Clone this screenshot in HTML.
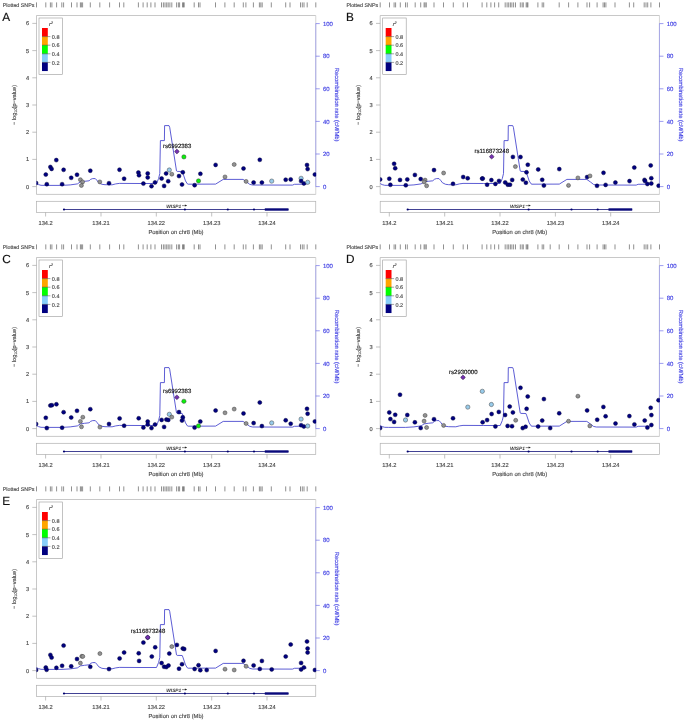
<!DOCTYPE html>
<html><head><meta charset="utf-8"><title>LocusZoom regional plots</title>
<style>html,body{margin:0;padding:0;background:#fff}svg{display:block;font-family:"Liberation Sans",sans-serif;text-rendering:geometricPrecision}text{stroke-width:0.15px}</style>
</head><body>
<svg width="685" height="721" viewBox="0 0 685 721">
<defs><clipPath id="cp"><rect x="36.5" y="15.5" width="279.65" height="178.9"/></clipPath></defs>
<rect width="685" height="721" fill="#fff"/>
<g transform="translate(0.00,0.00)">
<text x="2.7" y="7.0" font-size="5.35" fill="#4c4c4c" stroke="#4c4c4c">Plotted SNPs</text>
<path d="M36.5 2.4V7.4M315.8 2.4V7.4M45.8 2.4V7.4M50.4 2.4V7.4M51.9 2.4V7.4M56.6 2.4V7.4M61.8 2.4V7.4M63.6 2.4V7.4M71.5 2.4V7.4M77.0 2.4V7.4M80.4 2.4V7.4M81.4 2.4V7.4M82.6 2.4V7.4M90.3 2.4V7.4M99.8 2.4V7.4M109.6 2.4V7.4M119.5 2.4V7.4M123.8 2.4V7.4M138.4 2.4V7.4M143.1 2.4V7.4M147.2 2.4V7.4M150.9 2.4V7.4M155.0 2.4V7.4M161.5 2.4V7.4M163.4 2.4V7.4M165.0 2.4V7.4M166.7 2.4V7.4M168.2 2.4V7.4M169.9 2.4V7.4M171.8 2.4V7.4M176.6 2.4V7.4M178.4 2.4V7.4M179.6 2.4V7.4M182.5 2.4V7.4M183.5 2.4V7.4M184.2 2.4V7.4M194.2 2.4V7.4M198.5 2.4V7.4M200.0 2.4V7.4M215.5 2.4V7.4M224.9 2.4V7.4M234.2 2.4V7.4M243.3 2.4V7.4M245.9 2.4V7.4M253.4 2.4V7.4M259.4 2.4V7.4M260.8 2.4V7.4M262.2 2.4V7.4M271.3 2.4V7.4M285.7 2.4V7.4M290.0 2.4V7.4M300.5 2.4V7.4M302.3 2.4V7.4M304.0 2.4V7.4M307.2 2.4V7.4" stroke="#444" stroke-width="0.6" fill="none"/>
<text x="2.3" y="20.7" font-size="11.8" fill="#111" stroke="#111">A</text>
<path d="M36.5 194.4V15.5H315.75" stroke="#b0b0b0" stroke-width="0.7" fill="none"/>
<path d="M36.5 194.4H315.75" stroke="#b0b0b0" stroke-width="0.7" fill="none"/>
<path d="M315.75 15.5V194.4" stroke="#c4c4c4" stroke-width="0.7" fill="none"/>
<path d="M315.75 23.6V186.6" stroke="#9c9cea" stroke-width="0.8" fill="none"/>
<path d="M32.3 186.6H36.5" stroke="#999" stroke-width="0.6"/>
<text x="27.5" y="188.65" text-anchor="middle" font-size="5.7" fill="#4c4c4c" stroke="#4c4c4c">0</text>
<path d="M32.3 159.4H36.5" stroke="#999" stroke-width="0.6"/>
<text x="27.5" y="161.45" text-anchor="middle" font-size="5.7" fill="#4c4c4c" stroke="#4c4c4c">1</text>
<path d="M32.3 132.2H36.5" stroke="#999" stroke-width="0.6"/>
<text x="27.5" y="134.25" text-anchor="middle" font-size="5.7" fill="#4c4c4c" stroke="#4c4c4c">2</text>
<path d="M32.3 105.0H36.5" stroke="#999" stroke-width="0.6"/>
<text x="27.5" y="107.05" text-anchor="middle" font-size="5.7" fill="#4c4c4c" stroke="#4c4c4c">3</text>
<path d="M32.3 77.8H36.5" stroke="#999" stroke-width="0.6"/>
<text x="27.5" y="79.85" text-anchor="middle" font-size="5.7" fill="#4c4c4c" stroke="#4c4c4c">4</text>
<path d="M32.3 50.6H36.5" stroke="#999" stroke-width="0.6"/>
<text x="27.5" y="52.65" text-anchor="middle" font-size="5.7" fill="#4c4c4c" stroke="#4c4c4c">5</text>
<path d="M32.3 23.4H36.5" stroke="#999" stroke-width="0.6"/>
<text x="27.5" y="25.45" text-anchor="middle" font-size="5.7" fill="#4c4c4c" stroke="#4c4c4c">6</text>
<text transform="translate(16.0,105) rotate(-90)" text-anchor="middle" font-size="5.6" fill="#4c4c4c" stroke="#4c4c4c">− log<tspan font-size="3.8" dy="1.2">10</tspan><tspan dy="-1.2">(p−value)</tspan></text>
<path d="M315.75 186.6H319.75" stroke="#5a5ae6" stroke-width="0.6"/>
<text x="322.95" y="188.85" font-size="6.0" fill="#4444e4" stroke="#4444e4" stroke-width="0.08">0</text>
<path d="M315.75 154.0H319.75" stroke="#5a5ae6" stroke-width="0.6"/>
<text x="322.95" y="156.25" font-size="6.0" fill="#4444e4" stroke="#4444e4" stroke-width="0.08">20</text>
<path d="M315.75 121.4H319.75" stroke="#5a5ae6" stroke-width="0.6"/>
<text x="322.95" y="123.65" font-size="6.0" fill="#4444e4" stroke="#4444e4" stroke-width="0.08">40</text>
<path d="M315.75 88.8H319.75" stroke="#5a5ae6" stroke-width="0.6"/>
<text x="322.95" y="91.05" font-size="6.0" fill="#4444e4" stroke="#4444e4" stroke-width="0.08">60</text>
<path d="M315.75 56.2H319.75" stroke="#5a5ae6" stroke-width="0.6"/>
<text x="322.95" y="58.45" font-size="6.0" fill="#4444e4" stroke="#4444e4" stroke-width="0.08">80</text>
<path d="M315.75 23.6H319.75" stroke="#5a5ae6" stroke-width="0.6"/>
<text x="322.95" y="25.85" font-size="6.0" fill="#4444e4" stroke="#4444e4" stroke-width="0.08">100</text>
<text transform="translate(335.0,104.6) rotate(90)" text-anchor="middle" font-size="5.87" fill="#4444e4" stroke="#4444e4" stroke-width="0.08">Recombination rate (cM/Mb)</text>
<rect x="39" y="18" width="23.5" height="56.4" fill="#fff" stroke="#999" stroke-width="0.6"/>
<rect x="42" y="28.0" width="5.8" height="8.65" fill="#FF0000"/>
<rect x="42" y="36.6" width="5.8" height="8.65" fill="#FFA500"/>
<rect x="42" y="45.2" width="5.8" height="8.65" fill="#00FF00"/>
<rect x="42" y="53.8" width="5.8" height="8.65" fill="#87CEFA"/>
<rect x="42" y="62.4" width="5.8" height="8.65" fill="#000080"/>
<path d="M42 36.6H50.4" stroke="#333" stroke-width="0.45"/>
<text x="51.8" y="38.8" font-size="5.5" fill="#4c4c4c" stroke="#4c4c4c">0.8</text>
<path d="M42 45.2H50.4" stroke="#333" stroke-width="0.45"/>
<text x="51.8" y="47.4" font-size="5.5" fill="#4c4c4c" stroke="#4c4c4c">0.6</text>
<path d="M42 53.8H50.4" stroke="#333" stroke-width="0.45"/>
<text x="51.8" y="56.0" font-size="5.5" fill="#4c4c4c" stroke="#4c4c4c">0.4</text>
<path d="M42 62.4H50.4" stroke="#333" stroke-width="0.45"/>
<text x="51.8" y="64.6" font-size="5.5" fill="#4c4c4c" stroke="#4c4c4c">0.2</text>
<text x="49" y="25.6" font-size="5.6" font-style="italic" fill="#4c4c4c" stroke="#4c4c4c">r<tspan font-size="3.6" dy="-2">2</tspan></text>
<polyline points="36.5,183.6 38.5,184.6 41.0,185.3 45.0,185.4 62.0,185.4 70.2,184.9 77.4,183.9 78.9,182.9 80.4,181.9 84.5,181.3 89.1,180.8 90.7,179.3 92.7,178.6 95.3,178.6 96.8,180.2 98.8,182.8 101.9,184.3 105.0,184.7 112.1,184.8 115.7,183.9 119.3,183.4 140.0,183.5 156.5,183.5 158.6,178.5 159.8,173.5 160.4,140.6 164.4,140.6 164.6,125.6 169.0,125.6 169.7,127.3 176.5,170.9 177.2,171.4 182.2,171.5 182.9,173.2 185.5,180.9 187.3,183.8 188.2,184.2 215.6,184.1 223.2,179.4 243.1,179.4 246.9,182.1 249.8,184.4 252.6,185.0 292.5,185.1 294.4,184.3 303.9,184.2 306.5,184.2" fill="none" stroke="#4040cc" stroke-width="0.85" stroke-linejoin="miter"/>
<g clip-path="url(#cp)">
<circle cx="36.1" cy="183.1" r="2.0" fill="#000080" stroke="#0a0a3a" stroke-width="0.45"/>
<circle cx="45.8" cy="174.6" r="2.0" fill="#000080" stroke="#0a0a3a" stroke-width="0.45"/>
<circle cx="46.8" cy="184.2" r="2.0" fill="#000080" stroke="#0a0a3a" stroke-width="0.45"/>
<circle cx="50.4" cy="167.0" r="2.0" fill="#000080" stroke="#0a0a3a" stroke-width="0.45"/>
<circle cx="51.6" cy="168.9" r="2.0" fill="#000080" stroke="#0a0a3a" stroke-width="0.45"/>
<circle cx="56.3" cy="160.1" r="2.0" fill="#000080" stroke="#0a0a3a" stroke-width="0.45"/>
<circle cx="63.6" cy="169.8" r="2.0" fill="#000080" stroke="#0a0a3a" stroke-width="0.45"/>
<circle cx="62.1" cy="184.2" r="2.0" fill="#000080" stroke="#0a0a3a" stroke-width="0.45"/>
<circle cx="71.2" cy="177.8" r="2.0" fill="#000080" stroke="#0a0a3a" stroke-width="0.45"/>
<circle cx="77.0" cy="174.7" r="2.0" fill="#000080" stroke="#0a0a3a" stroke-width="0.45"/>
<circle cx="80.4" cy="179.7" r="2.0" fill="#929292" stroke="#333" stroke-width="0.45"/>
<circle cx="82.6" cy="181.9" r="2.0" fill="#929292" stroke="#333" stroke-width="0.45"/>
<circle cx="81.4" cy="185.5" r="2.0" fill="#929292" stroke="#333" stroke-width="0.45"/>
<circle cx="90.3" cy="170.7" r="2.0" fill="#000080" stroke="#0a0a3a" stroke-width="0.45"/>
<circle cx="99.8" cy="181.9" r="2.0" fill="#929292" stroke="#333" stroke-width="0.45"/>
<circle cx="109.0" cy="183.2" r="2.0" fill="#000080" stroke="#0a0a3a" stroke-width="0.45"/>
<circle cx="119.5" cy="169.7" r="2.0" fill="#000080" stroke="#0a0a3a" stroke-width="0.45"/>
<circle cx="124.1" cy="178.7" r="2.0" fill="#000080" stroke="#0a0a3a" stroke-width="0.45"/>
<circle cx="138.4" cy="172.5" r="2.0" fill="#000080" stroke="#0a0a3a" stroke-width="0.45"/>
<circle cx="139.0" cy="175.3" r="2.0" fill="#000080" stroke="#0a0a3a" stroke-width="0.45"/>
<circle cx="143.4" cy="183.6" r="2.0" fill="#000080" stroke="#0a0a3a" stroke-width="0.45"/>
<circle cx="147.7" cy="173.4" r="2.0" fill="#000080" stroke="#0a0a3a" stroke-width="0.45"/>
<circle cx="147.7" cy="177.4" r="2.0" fill="#000080" stroke="#0a0a3a" stroke-width="0.45"/>
<circle cx="151.5" cy="186.2" r="2.0" fill="#000080" stroke="#0a0a3a" stroke-width="0.45"/>
<circle cx="155.0" cy="182.4" r="2.0" fill="#000080" stroke="#0a0a3a" stroke-width="0.45"/>
<circle cx="161.6" cy="178.5" r="2.0" fill="#000080" stroke="#0a0a3a" stroke-width="0.45"/>
<circle cx="164.1" cy="185.9" r="2.0" fill="#000080" stroke="#0a0a3a" stroke-width="0.45"/>
<circle cx="166.1" cy="173.5" r="2.0" fill="#000080" stroke="#0a0a3a" stroke-width="0.45"/>
<circle cx="168.2" cy="181.2" r="2.0" fill="#000080" stroke="#0a0a3a" stroke-width="0.45"/>
<circle cx="169.3" cy="170.0" r="2.15" fill="#98cbea" stroke="#333" stroke-width="0.45"/>
<circle cx="171.8" cy="174.2" r="2.0" fill="#929292" stroke="#333" stroke-width="0.45"/>
<circle cx="179.0" cy="176.1" r="2.0" fill="#000080" stroke="#0a0a3a" stroke-width="0.45"/>
<circle cx="182.8" cy="172.3" r="2.0" fill="#000080" stroke="#0a0a3a" stroke-width="0.45"/>
<circle cx="182.0" cy="184.5" r="2.0" fill="#000080" stroke="#0a0a3a" stroke-width="0.45"/>
<circle cx="183.9" cy="156.9" r="2.15" fill="#0cf00c" stroke="#333" stroke-width="0.45"/>
<circle cx="194.6" cy="185.2" r="2.0" fill="#000080" stroke="#0a0a3a" stroke-width="0.45"/>
<circle cx="198.5" cy="180.9" r="2.15" fill="#0cf00c" stroke="#333" stroke-width="0.45"/>
<circle cx="200.4" cy="173.8" r="2.0" fill="#000080" stroke="#0a0a3a" stroke-width="0.45"/>
<circle cx="215.6" cy="164.9" r="2.0" fill="#000080" stroke="#0a0a3a" stroke-width="0.45"/>
<circle cx="234.2" cy="164.5" r="2.0" fill="#929292" stroke="#333" stroke-width="0.45"/>
<circle cx="225.0" cy="176.9" r="2.0" fill="#929292" stroke="#333" stroke-width="0.45"/>
<circle cx="243.5" cy="168.5" r="2.0" fill="#000080" stroke="#0a0a3a" stroke-width="0.45"/>
<circle cx="246.1" cy="181.4" r="2.0" fill="#929292" stroke="#333" stroke-width="0.45"/>
<circle cx="253.6" cy="182.5" r="2.0" fill="#000080" stroke="#0a0a3a" stroke-width="0.45"/>
<circle cx="259.8" cy="159.8" r="2.0" fill="#000080" stroke="#0a0a3a" stroke-width="0.45"/>
<circle cx="261.9" cy="182.6" r="2.0" fill="#000080" stroke="#0a0a3a" stroke-width="0.45"/>
<circle cx="271.7" cy="181.1" r="2.15" fill="#98cbea" stroke="#333" stroke-width="0.45"/>
<circle cx="285.7" cy="179.7" r="2.0" fill="#000080" stroke="#0a0a3a" stroke-width="0.45"/>
<circle cx="290.7" cy="179.4" r="2.0" fill="#000080" stroke="#0a0a3a" stroke-width="0.45"/>
<circle cx="301.1" cy="178.3" r="2.15" fill="#98cbea" stroke="#333" stroke-width="0.45"/>
<circle cx="301.1" cy="181.1" r="2.0" fill="#000080" stroke="#0a0a3a" stroke-width="0.45"/>
<circle cx="303.9" cy="183.5" r="2.0" fill="#000080" stroke="#0a0a3a" stroke-width="0.45"/>
<circle cx="307.7" cy="182.3" r="2.15" fill="#98cbea" stroke="#333" stroke-width="0.45"/>
<circle cx="307.0" cy="165.0" r="2.0" fill="#000080" stroke="#0a0a3a" stroke-width="0.45"/>
<circle cx="307.6" cy="169.1" r="2.0" fill="#000080" stroke="#0a0a3a" stroke-width="0.45"/>
<circle cx="314.9" cy="174.5" r="2.0" fill="#000080" stroke="#0a0a3a" stroke-width="0.45"/>
</g>
<rect x="-1.75" y="-1.75" width="3.5" height="3.5" rx="0.8" transform="translate(176.9,151.5) rotate(45)" fill="#7632b0" stroke="#2a1840" stroke-width="0.5"/>
<text x="177.1" y="147.5" text-anchor="middle" font-size="6.0" fill="#111" stroke="#111">rs6992383</text>
<rect x="36.5" y="201.3" width="279.25" height="11.199999999999989" fill="none" stroke="#b0b0b0" stroke-width="0.7"/>
<path d="M64 209.5H288.5" stroke="#2c2c88" stroke-width="0.9"/>
<circle cx="64" cy="209.5" r="1.1" fill="#00006e"/>
<circle cx="184.9" cy="209.5" r="1.1" fill="#00006e"/>
<circle cx="227.8" cy="209.5" r="1.1" fill="#00006e"/>
<circle cx="254" cy="209.5" r="1.1" fill="#00006e"/>
<rect x="264.8" y="208.3" width="23.7" height="2.4" fill="#08087a"/>
<text x="166.3" y="207.8" font-size="4.8" font-style="italic" font-weight="bold" fill="#333333" stroke="#333333" stroke-opacity="0">WISP1</text>
<path d="M182 205.6H186.4" stroke="#222" stroke-width="0.5" fill="none"/><path d="M184.9 204.6L187.1 205.6L184.9 206.6Z" fill="#222"/>
<path d="M45.6 212.5V216.5" stroke="#999" stroke-width="0.6"/>
<text x="45.6" y="225.4" text-anchor="middle" font-size="5.7" fill="#4c4c4c" stroke="#4c4c4c">134.2</text>
<path d="M101.0 212.5V216.5" stroke="#999" stroke-width="0.6"/>
<text x="101.0" y="225.4" text-anchor="middle" font-size="5.7" fill="#4c4c4c" stroke="#4c4c4c">134.21</text>
<path d="M156.3 212.5V216.5" stroke="#999" stroke-width="0.6"/>
<text x="156.3" y="225.4" text-anchor="middle" font-size="5.7" fill="#4c4c4c" stroke="#4c4c4c">134.22</text>
<path d="M211.7 212.5V216.5" stroke="#999" stroke-width="0.6"/>
<text x="211.7" y="225.4" text-anchor="middle" font-size="5.7" fill="#4c4c4c" stroke="#4c4c4c">134.23</text>
<path d="M267.0 212.5V216.5" stroke="#999" stroke-width="0.6"/>
<text x="267.0" y="225.4" text-anchor="middle" font-size="5.7" fill="#4c4c4c" stroke="#4c4c4c">134.24</text>
<text x="176" y="233.7" text-anchor="middle" font-size="5.8" fill="#4c4c4c" stroke="#4c4c4c">Position on chr8 (Mb)</text>
</g>
<g transform="translate(343.70,0.00)">
<text x="2.7" y="7.0" font-size="5.35" fill="#4c4c4c" stroke="#4c4c4c">Plotted SNPs</text>
<path d="M36.5 2.4V7.4M315.8 2.4V7.4M45.8 2.4V7.4M50.4 2.4V7.4M51.9 2.4V7.4M56.6 2.4V7.4M61.8 2.4V7.4M63.6 2.4V7.4M71.5 2.4V7.4M77.0 2.4V7.4M80.4 2.4V7.4M81.4 2.4V7.4M82.6 2.4V7.4M90.3 2.4V7.4M99.8 2.4V7.4M109.6 2.4V7.4M119.5 2.4V7.4M123.8 2.4V7.4M138.4 2.4V7.4M143.1 2.4V7.4M147.2 2.4V7.4M150.9 2.4V7.4M155.0 2.4V7.4M161.5 2.4V7.4M163.4 2.4V7.4M165.0 2.4V7.4M166.7 2.4V7.4M168.2 2.4V7.4M169.9 2.4V7.4M171.8 2.4V7.4M176.6 2.4V7.4M178.4 2.4V7.4M179.6 2.4V7.4M182.5 2.4V7.4M183.5 2.4V7.4M184.2 2.4V7.4M194.2 2.4V7.4M198.5 2.4V7.4M200.0 2.4V7.4M215.5 2.4V7.4M224.9 2.4V7.4M234.2 2.4V7.4M243.3 2.4V7.4M245.9 2.4V7.4M253.4 2.4V7.4M259.4 2.4V7.4M260.8 2.4V7.4M262.2 2.4V7.4M271.3 2.4V7.4M285.7 2.4V7.4M290.0 2.4V7.4M300.5 2.4V7.4M302.3 2.4V7.4M304.0 2.4V7.4M307.2 2.4V7.4" stroke="#444" stroke-width="0.6" fill="none"/>
<text x="2.3" y="20.7" font-size="11.8" fill="#111" stroke="#111">B</text>
<path d="M36.5 194.4V15.5H315.75" stroke="#b0b0b0" stroke-width="0.7" fill="none"/>
<path d="M36.5 194.4H315.75" stroke="#b0b0b0" stroke-width="0.7" fill="none"/>
<path d="M315.75 15.5V194.4" stroke="#c4c4c4" stroke-width="0.7" fill="none"/>
<path d="M315.75 23.6V186.6" stroke="#9c9cea" stroke-width="0.8" fill="none"/>
<path d="M32.3 186.6H36.5" stroke="#999" stroke-width="0.6"/>
<text x="27.5" y="188.65" text-anchor="middle" font-size="5.7" fill="#4c4c4c" stroke="#4c4c4c">0</text>
<path d="M32.3 159.4H36.5" stroke="#999" stroke-width="0.6"/>
<text x="27.5" y="161.45" text-anchor="middle" font-size="5.7" fill="#4c4c4c" stroke="#4c4c4c">1</text>
<path d="M32.3 132.2H36.5" stroke="#999" stroke-width="0.6"/>
<text x="27.5" y="134.25" text-anchor="middle" font-size="5.7" fill="#4c4c4c" stroke="#4c4c4c">2</text>
<path d="M32.3 105.0H36.5" stroke="#999" stroke-width="0.6"/>
<text x="27.5" y="107.05" text-anchor="middle" font-size="5.7" fill="#4c4c4c" stroke="#4c4c4c">3</text>
<path d="M32.3 77.8H36.5" stroke="#999" stroke-width="0.6"/>
<text x="27.5" y="79.85" text-anchor="middle" font-size="5.7" fill="#4c4c4c" stroke="#4c4c4c">4</text>
<path d="M32.3 50.6H36.5" stroke="#999" stroke-width="0.6"/>
<text x="27.5" y="52.65" text-anchor="middle" font-size="5.7" fill="#4c4c4c" stroke="#4c4c4c">5</text>
<path d="M32.3 23.4H36.5" stroke="#999" stroke-width="0.6"/>
<text x="27.5" y="25.45" text-anchor="middle" font-size="5.7" fill="#4c4c4c" stroke="#4c4c4c">6</text>
<text transform="translate(16.0,105) rotate(-90)" text-anchor="middle" font-size="5.6" fill="#4c4c4c" stroke="#4c4c4c">− log<tspan font-size="3.8" dy="1.2">10</tspan><tspan dy="-1.2">(p−value)</tspan></text>
<path d="M315.75 186.6H319.75" stroke="#5a5ae6" stroke-width="0.6"/>
<text x="322.95" y="188.85" font-size="6.0" fill="#4444e4" stroke="#4444e4" stroke-width="0.08">0</text>
<path d="M315.75 154.0H319.75" stroke="#5a5ae6" stroke-width="0.6"/>
<text x="322.95" y="156.25" font-size="6.0" fill="#4444e4" stroke="#4444e4" stroke-width="0.08">20</text>
<path d="M315.75 121.4H319.75" stroke="#5a5ae6" stroke-width="0.6"/>
<text x="322.95" y="123.65" font-size="6.0" fill="#4444e4" stroke="#4444e4" stroke-width="0.08">40</text>
<path d="M315.75 88.8H319.75" stroke="#5a5ae6" stroke-width="0.6"/>
<text x="322.95" y="91.05" font-size="6.0" fill="#4444e4" stroke="#4444e4" stroke-width="0.08">60</text>
<path d="M315.75 56.2H319.75" stroke="#5a5ae6" stroke-width="0.6"/>
<text x="322.95" y="58.45" font-size="6.0" fill="#4444e4" stroke="#4444e4" stroke-width="0.08">80</text>
<path d="M315.75 23.6H319.75" stroke="#5a5ae6" stroke-width="0.6"/>
<text x="322.95" y="25.85" font-size="6.0" fill="#4444e4" stroke="#4444e4" stroke-width="0.08">100</text>
<text transform="translate(335.0,104.6) rotate(90)" text-anchor="middle" font-size="5.87" fill="#4444e4" stroke="#4444e4" stroke-width="0.08">Recombination rate (cM/Mb)</text>
<rect x="39" y="18" width="23.5" height="56.4" fill="#fff" stroke="#999" stroke-width="0.6"/>
<rect x="42" y="28.0" width="5.8" height="8.65" fill="#FF0000"/>
<rect x="42" y="36.6" width="5.8" height="8.65" fill="#FFA500"/>
<rect x="42" y="45.2" width="5.8" height="8.65" fill="#00FF00"/>
<rect x="42" y="53.8" width="5.8" height="8.65" fill="#87CEFA"/>
<rect x="42" y="62.4" width="5.8" height="8.65" fill="#000080"/>
<path d="M42 36.6H50.4" stroke="#333" stroke-width="0.45"/>
<text x="51.8" y="38.8" font-size="5.5" fill="#4c4c4c" stroke="#4c4c4c">0.8</text>
<path d="M42 45.2H50.4" stroke="#333" stroke-width="0.45"/>
<text x="51.8" y="47.4" font-size="5.5" fill="#4c4c4c" stroke="#4c4c4c">0.6</text>
<path d="M42 53.8H50.4" stroke="#333" stroke-width="0.45"/>
<text x="51.8" y="56.0" font-size="5.5" fill="#4c4c4c" stroke="#4c4c4c">0.4</text>
<path d="M42 62.4H50.4" stroke="#333" stroke-width="0.45"/>
<text x="51.8" y="64.6" font-size="5.5" fill="#4c4c4c" stroke="#4c4c4c">0.2</text>
<text x="49" y="25.6" font-size="5.6" font-style="italic" fill="#4c4c4c" stroke="#4c4c4c">r<tspan font-size="3.6" dy="-2">2</tspan></text>
<polyline points="36.5,183.6 38.5,184.6 41.0,185.3 45.0,185.4 62.0,185.4 70.2,184.9 77.4,183.9 78.9,182.9 80.4,181.9 84.5,181.3 89.1,180.8 90.7,179.3 92.7,178.6 95.3,178.6 96.8,180.2 98.8,182.8 101.9,184.3 105.0,184.7 112.1,184.8 115.7,183.9 119.3,183.4 140.0,183.5 156.5,183.5 158.6,178.5 159.8,173.5 160.4,140.6 164.4,140.6 164.6,125.6 169.0,125.6 169.7,127.3 176.5,170.9 177.2,171.4 182.2,171.5 182.9,173.2 185.5,180.9 187.3,183.8 188.2,184.2 215.6,184.1 223.2,179.4 243.1,179.4 246.9,182.1 249.8,184.4 252.6,185.0 292.5,185.1 294.4,184.3 303.9,184.2 306.5,184.2" fill="none" stroke="#4040cc" stroke-width="0.85" stroke-linejoin="miter"/>
<g clip-path="url(#cp)">
<circle cx="36.4" cy="179.4" r="2.0" fill="#000080" stroke="#0a0a3a" stroke-width="0.45"/>
<circle cx="45.6" cy="178.7" r="2.0" fill="#000080" stroke="#0a0a3a" stroke-width="0.45"/>
<circle cx="46.7" cy="184.8" r="2.0" fill="#000080" stroke="#0a0a3a" stroke-width="0.45"/>
<circle cx="50.4" cy="163.8" r="2.0" fill="#000080" stroke="#0a0a3a" stroke-width="0.45"/>
<circle cx="51.5" cy="168.3" r="2.0" fill="#000080" stroke="#0a0a3a" stroke-width="0.45"/>
<circle cx="56.3" cy="179.9" r="2.0" fill="#000080" stroke="#0a0a3a" stroke-width="0.45"/>
<circle cx="63.6" cy="179.4" r="2.0" fill="#000080" stroke="#0a0a3a" stroke-width="0.45"/>
<circle cx="62.1" cy="185.3" r="2.0" fill="#000080" stroke="#0a0a3a" stroke-width="0.45"/>
<circle cx="71.2" cy="174.9" r="2.0" fill="#000080" stroke="#0a0a3a" stroke-width="0.45"/>
<circle cx="77.0" cy="179.1" r="2.0" fill="#000080" stroke="#0a0a3a" stroke-width="0.45"/>
<circle cx="81.4" cy="180.1" r="2.0" fill="#929292" stroke="#333" stroke-width="0.45"/>
<circle cx="80.4" cy="181.9" r="2.0" fill="#929292" stroke="#333" stroke-width="0.45"/>
<circle cx="82.9" cy="185.8" r="2.0" fill="#929292" stroke="#333" stroke-width="0.45"/>
<circle cx="90.3" cy="170.1" r="2.0" fill="#000080" stroke="#0a0a3a" stroke-width="0.45"/>
<circle cx="99.9" cy="173.0" r="2.0" fill="#929292" stroke="#333" stroke-width="0.45"/>
<circle cx="109.3" cy="183.8" r="2.0" fill="#000080" stroke="#0a0a3a" stroke-width="0.45"/>
<circle cx="119.5" cy="177.0" r="2.0" fill="#000080" stroke="#0a0a3a" stroke-width="0.45"/>
<circle cx="124.0" cy="178.3" r="2.0" fill="#000080" stroke="#0a0a3a" stroke-width="0.45"/>
<circle cx="138.4" cy="178.6" r="2.0" fill="#000080" stroke="#0a0a3a" stroke-width="0.45"/>
<circle cx="139.0" cy="178.6" r="2.0" fill="#000080" stroke="#0a0a3a" stroke-width="0.45"/>
<circle cx="143.4" cy="184.7" r="2.0" fill="#000080" stroke="#0a0a3a" stroke-width="0.45"/>
<circle cx="147.7" cy="180.1" r="2.0" fill="#000080" stroke="#0a0a3a" stroke-width="0.45"/>
<circle cx="151.7" cy="183.9" r="2.0" fill="#000080" stroke="#0a0a3a" stroke-width="0.45"/>
<circle cx="155.3" cy="180.9" r="2.0" fill="#000080" stroke="#0a0a3a" stroke-width="0.45"/>
<circle cx="161.5" cy="182.4" r="2.0" fill="#000080" stroke="#0a0a3a" stroke-width="0.45"/>
<circle cx="164.1" cy="184.7" r="2.0" fill="#000080" stroke="#0a0a3a" stroke-width="0.45"/>
<circle cx="166.3" cy="184.7" r="2.0" fill="#000080" stroke="#0a0a3a" stroke-width="0.45"/>
<circle cx="168.5" cy="179.9" r="2.0" fill="#000080" stroke="#0a0a3a" stroke-width="0.45"/>
<circle cx="169.2" cy="156.9" r="2.0" fill="#000080" stroke="#0a0a3a" stroke-width="0.45"/>
<circle cx="171.7" cy="166.6" r="2.0" fill="#929292" stroke="#333" stroke-width="0.45"/>
<circle cx="176.8" cy="157.0" r="2.0" fill="#000080" stroke="#0a0a3a" stroke-width="0.45"/>
<circle cx="179.1" cy="179.6" r="2.0" fill="#000080" stroke="#0a0a3a" stroke-width="0.45"/>
<circle cx="182.2" cy="182.7" r="2.0" fill="#000080" stroke="#0a0a3a" stroke-width="0.45"/>
<circle cx="182.8" cy="172.3" r="2.0" fill="#000080" stroke="#0a0a3a" stroke-width="0.45"/>
<circle cx="184.1" cy="164.7" r="2.0" fill="#000080" stroke="#0a0a3a" stroke-width="0.45"/>
<circle cx="194.5" cy="169.4" r="2.0" fill="#000080" stroke="#0a0a3a" stroke-width="0.45"/>
<circle cx="198.5" cy="179.8" r="2.0" fill="#000080" stroke="#0a0a3a" stroke-width="0.45"/>
<circle cx="200.2" cy="185.6" r="2.0" fill="#000080" stroke="#0a0a3a" stroke-width="0.45"/>
<circle cx="215.6" cy="169.1" r="2.0" fill="#000080" stroke="#0a0a3a" stroke-width="0.45"/>
<circle cx="224.8" cy="185.4" r="2.0" fill="#929292" stroke="#333" stroke-width="0.45"/>
<circle cx="234.2" cy="177.9" r="2.0" fill="#929292" stroke="#333" stroke-width="0.45"/>
<circle cx="243.4" cy="177.1" r="2.0" fill="#000080" stroke="#0a0a3a" stroke-width="0.45"/>
<circle cx="246.3" cy="175.9" r="2.0" fill="#929292" stroke="#333" stroke-width="0.45"/>
<circle cx="253.3" cy="185.8" r="2.0" fill="#000080" stroke="#0a0a3a" stroke-width="0.45"/>
<circle cx="259.8" cy="172.8" r="2.0" fill="#000080" stroke="#0a0a3a" stroke-width="0.45"/>
<circle cx="261.9" cy="184.9" r="2.0" fill="#000080" stroke="#0a0a3a" stroke-width="0.45"/>
<circle cx="271.7" cy="182.5" r="2.0" fill="#000080" stroke="#0a0a3a" stroke-width="0.45"/>
<circle cx="285.8" cy="181.1" r="2.0" fill="#000080" stroke="#0a0a3a" stroke-width="0.45"/>
<circle cx="290.6" cy="167.6" r="2.0" fill="#000080" stroke="#0a0a3a" stroke-width="0.45"/>
<circle cx="300.8" cy="179.9" r="2.0" fill="#000080" stroke="#0a0a3a" stroke-width="0.45"/>
<circle cx="301.4" cy="181.1" r="2.0" fill="#000080" stroke="#0a0a3a" stroke-width="0.45"/>
<circle cx="303.7" cy="184.0" r="2.0" fill="#000080" stroke="#0a0a3a" stroke-width="0.45"/>
<circle cx="307.0" cy="165.4" r="2.0" fill="#000080" stroke="#0a0a3a" stroke-width="0.45"/>
<circle cx="307.6" cy="178.2" r="2.0" fill="#000080" stroke="#0a0a3a" stroke-width="0.45"/>
<circle cx="307.6" cy="183.5" r="2.0" fill="#000080" stroke="#0a0a3a" stroke-width="0.45"/>
<circle cx="314.9" cy="185.7" r="2.0" fill="#000080" stroke="#0a0a3a" stroke-width="0.45"/>
</g>
<rect x="-1.75" y="-1.75" width="3.5" height="3.5" rx="0.8" transform="translate(148,156.7) rotate(45)" fill="#7632b0" stroke="#2a1840" stroke-width="0.5"/>
<text x="148" y="152.9" text-anchor="middle" font-size="6.0" fill="#111" stroke="#111">rs116873248</text>
<rect x="36.5" y="201.3" width="279.25" height="11.199999999999989" fill="none" stroke="#b0b0b0" stroke-width="0.7"/>
<path d="M64 209.5H288.5" stroke="#2c2c88" stroke-width="0.9"/>
<circle cx="64" cy="209.5" r="1.1" fill="#00006e"/>
<circle cx="184.9" cy="209.5" r="1.1" fill="#00006e"/>
<circle cx="227.8" cy="209.5" r="1.1" fill="#00006e"/>
<circle cx="254" cy="209.5" r="1.1" fill="#00006e"/>
<rect x="264.8" y="208.3" width="23.7" height="2.4" fill="#08087a"/>
<text x="166.3" y="207.8" font-size="4.8" font-style="italic" font-weight="bold" fill="#333333" stroke="#333333" stroke-opacity="0">WISP1</text>
<path d="M182 205.6H186.4" stroke="#222" stroke-width="0.5" fill="none"/><path d="M184.9 204.6L187.1 205.6L184.9 206.6Z" fill="#222"/>
<path d="M45.6 212.5V216.5" stroke="#999" stroke-width="0.6"/>
<text x="45.6" y="225.4" text-anchor="middle" font-size="5.7" fill="#4c4c4c" stroke="#4c4c4c">134.2</text>
<path d="M101.0 212.5V216.5" stroke="#999" stroke-width="0.6"/>
<text x="101.0" y="225.4" text-anchor="middle" font-size="5.7" fill="#4c4c4c" stroke="#4c4c4c">134.21</text>
<path d="M156.3 212.5V216.5" stroke="#999" stroke-width="0.6"/>
<text x="156.3" y="225.4" text-anchor="middle" font-size="5.7" fill="#4c4c4c" stroke="#4c4c4c">134.22</text>
<path d="M211.7 212.5V216.5" stroke="#999" stroke-width="0.6"/>
<text x="211.7" y="225.4" text-anchor="middle" font-size="5.7" fill="#4c4c4c" stroke="#4c4c4c">134.23</text>
<path d="M267.0 212.5V216.5" stroke="#999" stroke-width="0.6"/>
<text x="267.0" y="225.4" text-anchor="middle" font-size="5.7" fill="#4c4c4c" stroke="#4c4c4c">134.24</text>
<text x="176" y="233.7" text-anchor="middle" font-size="5.8" fill="#4c4c4c" stroke="#4c4c4c">Position on chr8 (Mb)</text>
</g>
<g transform="translate(0.00,242.00)">
<text x="2.7" y="7.0" font-size="5.35" fill="#4c4c4c" stroke="#4c4c4c">Plotted SNPs</text>
<path d="M36.5 2.4V7.4M315.8 2.4V7.4M45.8 2.4V7.4M50.4 2.4V7.4M51.9 2.4V7.4M56.6 2.4V7.4M61.8 2.4V7.4M63.6 2.4V7.4M71.5 2.4V7.4M77.0 2.4V7.4M80.4 2.4V7.4M81.4 2.4V7.4M82.6 2.4V7.4M90.3 2.4V7.4M99.8 2.4V7.4M109.6 2.4V7.4M119.5 2.4V7.4M123.8 2.4V7.4M138.4 2.4V7.4M143.1 2.4V7.4M147.2 2.4V7.4M150.9 2.4V7.4M155.0 2.4V7.4M161.5 2.4V7.4M163.4 2.4V7.4M165.0 2.4V7.4M166.7 2.4V7.4M168.2 2.4V7.4M169.9 2.4V7.4M171.8 2.4V7.4M176.6 2.4V7.4M178.4 2.4V7.4M179.6 2.4V7.4M182.5 2.4V7.4M183.5 2.4V7.4M184.2 2.4V7.4M194.2 2.4V7.4M198.5 2.4V7.4M200.0 2.4V7.4M215.5 2.4V7.4M224.9 2.4V7.4M234.2 2.4V7.4M243.3 2.4V7.4M245.9 2.4V7.4M253.4 2.4V7.4M259.4 2.4V7.4M260.8 2.4V7.4M262.2 2.4V7.4M271.3 2.4V7.4M285.7 2.4V7.4M290.0 2.4V7.4M300.5 2.4V7.4M302.3 2.4V7.4M304.0 2.4V7.4M307.2 2.4V7.4" stroke="#444" stroke-width="0.6" fill="none"/>
<text x="2.3" y="20.7" font-size="11.8" fill="#111" stroke="#111">C</text>
<path d="M36.5 194.4V15.5H315.75" stroke="#b0b0b0" stroke-width="0.7" fill="none"/>
<path d="M36.5 194.4H315.75" stroke="#b0b0b0" stroke-width="0.7" fill="none"/>
<path d="M315.75 15.5V194.4" stroke="#c4c4c4" stroke-width="0.7" fill="none"/>
<path d="M315.75 23.6V186.6" stroke="#9c9cea" stroke-width="0.8" fill="none"/>
<path d="M32.3 186.6H36.5" stroke="#999" stroke-width="0.6"/>
<text x="27.5" y="188.65" text-anchor="middle" font-size="5.7" fill="#4c4c4c" stroke="#4c4c4c">0</text>
<path d="M32.3 159.4H36.5" stroke="#999" stroke-width="0.6"/>
<text x="27.5" y="161.45" text-anchor="middle" font-size="5.7" fill="#4c4c4c" stroke="#4c4c4c">1</text>
<path d="M32.3 132.2H36.5" stroke="#999" stroke-width="0.6"/>
<text x="27.5" y="134.25" text-anchor="middle" font-size="5.7" fill="#4c4c4c" stroke="#4c4c4c">2</text>
<path d="M32.3 105.0H36.5" stroke="#999" stroke-width="0.6"/>
<text x="27.5" y="107.05" text-anchor="middle" font-size="5.7" fill="#4c4c4c" stroke="#4c4c4c">3</text>
<path d="M32.3 77.8H36.5" stroke="#999" stroke-width="0.6"/>
<text x="27.5" y="79.85" text-anchor="middle" font-size="5.7" fill="#4c4c4c" stroke="#4c4c4c">4</text>
<path d="M32.3 50.6H36.5" stroke="#999" stroke-width="0.6"/>
<text x="27.5" y="52.65" text-anchor="middle" font-size="5.7" fill="#4c4c4c" stroke="#4c4c4c">5</text>
<path d="M32.3 23.4H36.5" stroke="#999" stroke-width="0.6"/>
<text x="27.5" y="25.45" text-anchor="middle" font-size="5.7" fill="#4c4c4c" stroke="#4c4c4c">6</text>
<text transform="translate(16.0,105) rotate(-90)" text-anchor="middle" font-size="5.6" fill="#4c4c4c" stroke="#4c4c4c">− log<tspan font-size="3.8" dy="1.2">10</tspan><tspan dy="-1.2">(p−value)</tspan></text>
<path d="M315.75 186.6H319.75" stroke="#5a5ae6" stroke-width="0.6"/>
<text x="322.95" y="188.85" font-size="6.0" fill="#4444e4" stroke="#4444e4" stroke-width="0.08">0</text>
<path d="M315.75 154.0H319.75" stroke="#5a5ae6" stroke-width="0.6"/>
<text x="322.95" y="156.25" font-size="6.0" fill="#4444e4" stroke="#4444e4" stroke-width="0.08">20</text>
<path d="M315.75 121.4H319.75" stroke="#5a5ae6" stroke-width="0.6"/>
<text x="322.95" y="123.65" font-size="6.0" fill="#4444e4" stroke="#4444e4" stroke-width="0.08">40</text>
<path d="M315.75 88.8H319.75" stroke="#5a5ae6" stroke-width="0.6"/>
<text x="322.95" y="91.05" font-size="6.0" fill="#4444e4" stroke="#4444e4" stroke-width="0.08">60</text>
<path d="M315.75 56.2H319.75" stroke="#5a5ae6" stroke-width="0.6"/>
<text x="322.95" y="58.45" font-size="6.0" fill="#4444e4" stroke="#4444e4" stroke-width="0.08">80</text>
<path d="M315.75 23.6H319.75" stroke="#5a5ae6" stroke-width="0.6"/>
<text x="322.95" y="25.85" font-size="6.0" fill="#4444e4" stroke="#4444e4" stroke-width="0.08">100</text>
<text transform="translate(335.0,104.6) rotate(90)" text-anchor="middle" font-size="5.87" fill="#4444e4" stroke="#4444e4" stroke-width="0.08">Recombination rate (cM/Mb)</text>
<rect x="39" y="18" width="23.5" height="56.4" fill="#fff" stroke="#999" stroke-width="0.6"/>
<rect x="42" y="28.0" width="5.8" height="8.65" fill="#FF0000"/>
<rect x="42" y="36.6" width="5.8" height="8.65" fill="#FFA500"/>
<rect x="42" y="45.2" width="5.8" height="8.65" fill="#00FF00"/>
<rect x="42" y="53.8" width="5.8" height="8.65" fill="#87CEFA"/>
<rect x="42" y="62.4" width="5.8" height="8.65" fill="#000080"/>
<path d="M42 36.6H50.4" stroke="#333" stroke-width="0.45"/>
<text x="51.8" y="38.8" font-size="5.5" fill="#4c4c4c" stroke="#4c4c4c">0.8</text>
<path d="M42 45.2H50.4" stroke="#333" stroke-width="0.45"/>
<text x="51.8" y="47.4" font-size="5.5" fill="#4c4c4c" stroke="#4c4c4c">0.6</text>
<path d="M42 53.8H50.4" stroke="#333" stroke-width="0.45"/>
<text x="51.8" y="56.0" font-size="5.5" fill="#4c4c4c" stroke="#4c4c4c">0.4</text>
<path d="M42 62.4H50.4" stroke="#333" stroke-width="0.45"/>
<text x="51.8" y="64.6" font-size="5.5" fill="#4c4c4c" stroke="#4c4c4c">0.2</text>
<text x="49" y="25.6" font-size="5.6" font-style="italic" fill="#4c4c4c" stroke="#4c4c4c">r<tspan font-size="3.6" dy="-2">2</tspan></text>
<polyline points="36.5,183.6 38.5,184.6 41.0,185.3 45.0,185.4 62.0,185.4 70.2,184.9 77.4,183.9 78.9,182.9 80.4,181.9 84.5,181.3 89.1,180.8 90.7,179.3 92.7,178.6 95.3,178.6 96.8,180.2 98.8,182.8 101.9,184.3 105.0,184.7 112.1,184.8 115.7,183.9 119.3,183.4 140.0,183.5 156.5,183.5 158.6,178.5 159.8,173.5 160.4,140.6 164.4,140.6 164.6,125.6 169.0,125.6 169.7,127.3 176.5,170.9 177.2,171.4 182.2,171.5 182.9,173.2 185.5,180.9 187.3,183.8 188.2,184.2 215.6,184.1 223.2,179.4 243.1,179.4 246.9,182.1 249.8,184.4 252.6,185.0 292.5,185.1 294.4,184.3 303.9,184.2 306.5,184.2" fill="none" stroke="#4040cc" stroke-width="0.85" stroke-linejoin="miter"/>
<g clip-path="url(#cp)">
<circle cx="36.1" cy="182.0" r="2.0" fill="#000080" stroke="#0a0a3a" stroke-width="0.45"/>
<circle cx="45.8" cy="175.8" r="2.0" fill="#000080" stroke="#0a0a3a" stroke-width="0.45"/>
<circle cx="46.8" cy="186.1" r="2.0" fill="#000080" stroke="#0a0a3a" stroke-width="0.45"/>
<circle cx="50.4" cy="163.5" r="2.0" fill="#000080" stroke="#0a0a3a" stroke-width="0.45"/>
<circle cx="51.9" cy="163.2" r="2.0" fill="#000080" stroke="#0a0a3a" stroke-width="0.45"/>
<circle cx="56.4" cy="162.3" r="2.0" fill="#000080" stroke="#0a0a3a" stroke-width="0.45"/>
<circle cx="62.1" cy="185.7" r="2.0" fill="#000080" stroke="#0a0a3a" stroke-width="0.45"/>
<circle cx="63.6" cy="170.2" r="2.0" fill="#000080" stroke="#0a0a3a" stroke-width="0.45"/>
<circle cx="71.2" cy="175.5" r="2.0" fill="#000080" stroke="#0a0a3a" stroke-width="0.45"/>
<circle cx="77.0" cy="168.8" r="2.0" fill="#000080" stroke="#0a0a3a" stroke-width="0.45"/>
<circle cx="80.4" cy="179.4" r="2.0" fill="#929292" stroke="#333" stroke-width="0.45"/>
<circle cx="81.5" cy="184.8" r="2.0" fill="#929292" stroke="#333" stroke-width="0.45"/>
<circle cx="82.8" cy="175.2" r="2.0" fill="#929292" stroke="#333" stroke-width="0.45"/>
<circle cx="90.3" cy="167.2" r="2.0" fill="#000080" stroke="#0a0a3a" stroke-width="0.45"/>
<circle cx="99.9" cy="185.1" r="2.0" fill="#929292" stroke="#333" stroke-width="0.45"/>
<circle cx="109.0" cy="182.0" r="2.0" fill="#000080" stroke="#0a0a3a" stroke-width="0.45"/>
<circle cx="119.6" cy="176.4" r="2.0" fill="#000080" stroke="#0a0a3a" stroke-width="0.45"/>
<circle cx="124.1" cy="183.7" r="2.0" fill="#000080" stroke="#0a0a3a" stroke-width="0.45"/>
<circle cx="138.7" cy="176.3" r="2.0" fill="#000080" stroke="#0a0a3a" stroke-width="0.45"/>
<circle cx="143.4" cy="185.5" r="2.0" fill="#000080" stroke="#0a0a3a" stroke-width="0.45"/>
<circle cx="147.7" cy="179.5" r="2.0" fill="#000080" stroke="#0a0a3a" stroke-width="0.45"/>
<circle cx="147.7" cy="182.6" r="2.0" fill="#000080" stroke="#0a0a3a" stroke-width="0.45"/>
<circle cx="151.5" cy="186.1" r="2.0" fill="#000080" stroke="#0a0a3a" stroke-width="0.45"/>
<circle cx="155.0" cy="182.6" r="2.0" fill="#000080" stroke="#0a0a3a" stroke-width="0.45"/>
<circle cx="161.6" cy="177.9" r="2.0" fill="#000080" stroke="#0a0a3a" stroke-width="0.45"/>
<circle cx="164.1" cy="184.9" r="2.0" fill="#000080" stroke="#0a0a3a" stroke-width="0.45"/>
<circle cx="166.4" cy="177.6" r="2.0" fill="#000080" stroke="#0a0a3a" stroke-width="0.45"/>
<circle cx="168.3" cy="177.9" r="2.0" fill="#000080" stroke="#0a0a3a" stroke-width="0.45"/>
<circle cx="169.3" cy="172.3" r="2.15" fill="#98cbea" stroke="#333" stroke-width="0.45"/>
<circle cx="171.8" cy="175.1" r="2.0" fill="#929292" stroke="#333" stroke-width="0.45"/>
<circle cx="179.0" cy="170.1" r="2.0" fill="#000080" stroke="#0a0a3a" stroke-width="0.45"/>
<circle cx="182.0" cy="178.6" r="2.0" fill="#000080" stroke="#0a0a3a" stroke-width="0.45"/>
<circle cx="182.8" cy="175.3" r="2.0" fill="#000080" stroke="#0a0a3a" stroke-width="0.45"/>
<circle cx="183.9" cy="159.3" r="2.15" fill="#0cf00c" stroke="#333" stroke-width="0.45"/>
<circle cx="194.6" cy="185.6" r="2.0" fill="#000080" stroke="#0a0a3a" stroke-width="0.45"/>
<circle cx="198.5" cy="183.9" r="2.15" fill="#0cf00c" stroke="#333" stroke-width="0.45"/>
<circle cx="200.3" cy="179.6" r="2.0" fill="#000080" stroke="#0a0a3a" stroke-width="0.45"/>
<circle cx="215.6" cy="168.5" r="2.0" fill="#000080" stroke="#0a0a3a" stroke-width="0.45"/>
<circle cx="225.0" cy="170.8" r="2.0" fill="#929292" stroke="#333" stroke-width="0.45"/>
<circle cx="234.2" cy="167.1" r="2.0" fill="#929292" stroke="#333" stroke-width="0.45"/>
<circle cx="243.5" cy="171.4" r="2.0" fill="#000080" stroke="#0a0a3a" stroke-width="0.45"/>
<circle cx="246.1" cy="181.5" r="2.0" fill="#929292" stroke="#333" stroke-width="0.45"/>
<circle cx="253.6" cy="181.1" r="2.0" fill="#000080" stroke="#0a0a3a" stroke-width="0.45"/>
<circle cx="259.8" cy="160.5" r="2.0" fill="#000080" stroke="#0a0a3a" stroke-width="0.45"/>
<circle cx="261.9" cy="184.1" r="2.0" fill="#000080" stroke="#0a0a3a" stroke-width="0.45"/>
<circle cx="271.7" cy="180.9" r="2.15" fill="#98cbea" stroke="#333" stroke-width="0.45"/>
<circle cx="285.7" cy="178.3" r="2.0" fill="#000080" stroke="#0a0a3a" stroke-width="0.45"/>
<circle cx="290.7" cy="181.7" r="2.0" fill="#000080" stroke="#0a0a3a" stroke-width="0.45"/>
<circle cx="301.1" cy="177.1" r="2.15" fill="#98cbea" stroke="#333" stroke-width="0.45"/>
<circle cx="301.1" cy="183.2" r="2.0" fill="#000080" stroke="#0a0a3a" stroke-width="0.45"/>
<circle cx="303.9" cy="184.5" r="2.0" fill="#000080" stroke="#0a0a3a" stroke-width="0.45"/>
<circle cx="307.7" cy="184.0" r="2.15" fill="#98cbea" stroke="#333" stroke-width="0.45"/>
<circle cx="307.0" cy="166.8" r="2.0" fill="#000080" stroke="#0a0a3a" stroke-width="0.45"/>
<circle cx="307.6" cy="171.7" r="2.0" fill="#000080" stroke="#0a0a3a" stroke-width="0.45"/>
<circle cx="314.9" cy="179.4" r="2.0" fill="#000080" stroke="#0a0a3a" stroke-width="0.45"/>
</g>
<rect x="-1.75" y="-1.75" width="3.5" height="3.5" rx="0.8" transform="translate(176.9,155.3) rotate(45)" fill="#7632b0" stroke="#2a1840" stroke-width="0.5"/>
<text x="177.1" y="151.4" text-anchor="middle" font-size="6.0" fill="#111" stroke="#111">rs6992383</text>
<rect x="36.5" y="201.3" width="279.25" height="11.199999999999989" fill="none" stroke="#b0b0b0" stroke-width="0.7"/>
<path d="M64 209.5H288.5" stroke="#2c2c88" stroke-width="0.9"/>
<circle cx="64" cy="209.5" r="1.1" fill="#00006e"/>
<circle cx="184.9" cy="209.5" r="1.1" fill="#00006e"/>
<circle cx="227.8" cy="209.5" r="1.1" fill="#00006e"/>
<circle cx="254" cy="209.5" r="1.1" fill="#00006e"/>
<rect x="264.8" y="208.3" width="23.7" height="2.4" fill="#08087a"/>
<text x="166.3" y="207.8" font-size="4.8" font-style="italic" font-weight="bold" fill="#333333" stroke="#333333" stroke-opacity="0">WISP1</text>
<path d="M182 205.6H186.4" stroke="#222" stroke-width="0.5" fill="none"/><path d="M184.9 204.6L187.1 205.6L184.9 206.6Z" fill="#222"/>
<path d="M45.6 212.5V216.5" stroke="#999" stroke-width="0.6"/>
<text x="45.6" y="225.4" text-anchor="middle" font-size="5.7" fill="#4c4c4c" stroke="#4c4c4c">134.2</text>
<path d="M101.0 212.5V216.5" stroke="#999" stroke-width="0.6"/>
<text x="101.0" y="225.4" text-anchor="middle" font-size="5.7" fill="#4c4c4c" stroke="#4c4c4c">134.21</text>
<path d="M156.3 212.5V216.5" stroke="#999" stroke-width="0.6"/>
<text x="156.3" y="225.4" text-anchor="middle" font-size="5.7" fill="#4c4c4c" stroke="#4c4c4c">134.22</text>
<path d="M211.7 212.5V216.5" stroke="#999" stroke-width="0.6"/>
<text x="211.7" y="225.4" text-anchor="middle" font-size="5.7" fill="#4c4c4c" stroke="#4c4c4c">134.23</text>
<path d="M267.0 212.5V216.5" stroke="#999" stroke-width="0.6"/>
<text x="267.0" y="225.4" text-anchor="middle" font-size="5.7" fill="#4c4c4c" stroke="#4c4c4c">134.24</text>
<text x="176" y="233.7" text-anchor="middle" font-size="5.8" fill="#4c4c4c" stroke="#4c4c4c">Position on chr8 (Mb)</text>
</g>
<g transform="translate(343.70,242.00)">
<text x="2.7" y="7.0" font-size="5.35" fill="#4c4c4c" stroke="#4c4c4c">Plotted SNPs</text>
<path d="M36.5 2.4V7.4M315.8 2.4V7.4M45.8 2.4V7.4M50.4 2.4V7.4M51.9 2.4V7.4M56.6 2.4V7.4M61.8 2.4V7.4M63.6 2.4V7.4M71.5 2.4V7.4M77.0 2.4V7.4M80.4 2.4V7.4M81.4 2.4V7.4M82.6 2.4V7.4M90.3 2.4V7.4M99.8 2.4V7.4M109.6 2.4V7.4M119.5 2.4V7.4M123.8 2.4V7.4M138.4 2.4V7.4M143.1 2.4V7.4M147.2 2.4V7.4M150.9 2.4V7.4M155.0 2.4V7.4M161.5 2.4V7.4M163.4 2.4V7.4M165.0 2.4V7.4M166.7 2.4V7.4M168.2 2.4V7.4M169.9 2.4V7.4M171.8 2.4V7.4M176.6 2.4V7.4M178.4 2.4V7.4M179.6 2.4V7.4M182.5 2.4V7.4M183.5 2.4V7.4M184.2 2.4V7.4M194.2 2.4V7.4M198.5 2.4V7.4M200.0 2.4V7.4M206.5 2.4V7.4M215.5 2.4V7.4M224.9 2.4V7.4M234.2 2.4V7.4M243.3 2.4V7.4M245.9 2.4V7.4M253.4 2.4V7.4M259.4 2.4V7.4M260.8 2.4V7.4M262.2 2.4V7.4M271.3 2.4V7.4M285.7 2.4V7.4M290.0 2.4V7.4M300.5 2.4V7.4M302.3 2.4V7.4M304.0 2.4V7.4M307.2 2.4V7.4" stroke="#444" stroke-width="0.6" fill="none"/>
<text x="2.3" y="20.7" font-size="11.8" fill="#111" stroke="#111">D</text>
<path d="M36.5 194.4V15.5H315.75" stroke="#b0b0b0" stroke-width="0.7" fill="none"/>
<path d="M36.5 194.4H315.75" stroke="#b0b0b0" stroke-width="0.7" fill="none"/>
<path d="M315.75 15.5V194.4" stroke="#c4c4c4" stroke-width="0.7" fill="none"/>
<path d="M315.75 23.6V186.6" stroke="#9c9cea" stroke-width="0.8" fill="none"/>
<path d="M32.3 186.6H36.5" stroke="#999" stroke-width="0.6"/>
<text x="27.5" y="188.65" text-anchor="middle" font-size="5.7" fill="#4c4c4c" stroke="#4c4c4c">0</text>
<path d="M32.3 159.4H36.5" stroke="#999" stroke-width="0.6"/>
<text x="27.5" y="161.45" text-anchor="middle" font-size="5.7" fill="#4c4c4c" stroke="#4c4c4c">1</text>
<path d="M32.3 132.2H36.5" stroke="#999" stroke-width="0.6"/>
<text x="27.5" y="134.25" text-anchor="middle" font-size="5.7" fill="#4c4c4c" stroke="#4c4c4c">2</text>
<path d="M32.3 105.0H36.5" stroke="#999" stroke-width="0.6"/>
<text x="27.5" y="107.05" text-anchor="middle" font-size="5.7" fill="#4c4c4c" stroke="#4c4c4c">3</text>
<path d="M32.3 77.8H36.5" stroke="#999" stroke-width="0.6"/>
<text x="27.5" y="79.85" text-anchor="middle" font-size="5.7" fill="#4c4c4c" stroke="#4c4c4c">4</text>
<path d="M32.3 50.6H36.5" stroke="#999" stroke-width="0.6"/>
<text x="27.5" y="52.65" text-anchor="middle" font-size="5.7" fill="#4c4c4c" stroke="#4c4c4c">5</text>
<path d="M32.3 23.4H36.5" stroke="#999" stroke-width="0.6"/>
<text x="27.5" y="25.45" text-anchor="middle" font-size="5.7" fill="#4c4c4c" stroke="#4c4c4c">6</text>
<text transform="translate(16.0,105) rotate(-90)" text-anchor="middle" font-size="5.6" fill="#4c4c4c" stroke="#4c4c4c">− log<tspan font-size="3.8" dy="1.2">10</tspan><tspan dy="-1.2">(p−value)</tspan></text>
<path d="M315.75 186.6H319.75" stroke="#5a5ae6" stroke-width="0.6"/>
<text x="322.95" y="188.85" font-size="6.0" fill="#4444e4" stroke="#4444e4" stroke-width="0.08">0</text>
<path d="M315.75 154.0H319.75" stroke="#5a5ae6" stroke-width="0.6"/>
<text x="322.95" y="156.25" font-size="6.0" fill="#4444e4" stroke="#4444e4" stroke-width="0.08">20</text>
<path d="M315.75 121.4H319.75" stroke="#5a5ae6" stroke-width="0.6"/>
<text x="322.95" y="123.65" font-size="6.0" fill="#4444e4" stroke="#4444e4" stroke-width="0.08">40</text>
<path d="M315.75 88.8H319.75" stroke="#5a5ae6" stroke-width="0.6"/>
<text x="322.95" y="91.05" font-size="6.0" fill="#4444e4" stroke="#4444e4" stroke-width="0.08">60</text>
<path d="M315.75 56.2H319.75" stroke="#5a5ae6" stroke-width="0.6"/>
<text x="322.95" y="58.45" font-size="6.0" fill="#4444e4" stroke="#4444e4" stroke-width="0.08">80</text>
<path d="M315.75 23.6H319.75" stroke="#5a5ae6" stroke-width="0.6"/>
<text x="322.95" y="25.85" font-size="6.0" fill="#4444e4" stroke="#4444e4" stroke-width="0.08">100</text>
<text transform="translate(335.0,104.6) rotate(90)" text-anchor="middle" font-size="5.87" fill="#4444e4" stroke="#4444e4" stroke-width="0.08">Recombination rate (cM/Mb)</text>
<rect x="39" y="18" width="23.5" height="56.4" fill="#fff" stroke="#999" stroke-width="0.6"/>
<rect x="42" y="28.0" width="5.8" height="8.65" fill="#FF0000"/>
<rect x="42" y="36.6" width="5.8" height="8.65" fill="#FFA500"/>
<rect x="42" y="45.2" width="5.8" height="8.65" fill="#00FF00"/>
<rect x="42" y="53.8" width="5.8" height="8.65" fill="#87CEFA"/>
<rect x="42" y="62.4" width="5.8" height="8.65" fill="#000080"/>
<path d="M42 36.6H50.4" stroke="#333" stroke-width="0.45"/>
<text x="51.8" y="38.8" font-size="5.5" fill="#4c4c4c" stroke="#4c4c4c">0.8</text>
<path d="M42 45.2H50.4" stroke="#333" stroke-width="0.45"/>
<text x="51.8" y="47.4" font-size="5.5" fill="#4c4c4c" stroke="#4c4c4c">0.6</text>
<path d="M42 53.8H50.4" stroke="#333" stroke-width="0.45"/>
<text x="51.8" y="56.0" font-size="5.5" fill="#4c4c4c" stroke="#4c4c4c">0.4</text>
<path d="M42 62.4H50.4" stroke="#333" stroke-width="0.45"/>
<text x="51.8" y="64.6" font-size="5.5" fill="#4c4c4c" stroke="#4c4c4c">0.2</text>
<text x="49" y="25.6" font-size="5.6" font-style="italic" fill="#4c4c4c" stroke="#4c4c4c">r<tspan font-size="3.6" dy="-2">2</tspan></text>
<polyline points="36.5,183.6 38.5,184.6 41.0,185.3 45.0,185.4 62.0,185.4 70.2,184.9 77.4,183.9 78.9,182.9 80.4,181.9 84.5,181.3 89.1,180.8 90.7,179.3 92.7,178.6 95.3,178.6 96.8,180.2 98.8,182.8 101.9,184.3 105.0,184.7 112.1,184.8 115.7,183.9 119.3,183.4 140.0,183.5 156.5,183.5 158.6,178.5 159.8,173.5 160.4,140.6 164.4,140.6 164.6,125.6 169.0,125.6 169.7,127.3 176.5,170.9 177.2,171.4 182.2,171.5 182.9,173.2 185.5,180.9 187.3,183.8 188.2,184.2 215.6,184.1 223.2,179.4 243.1,179.4 246.9,182.1 249.8,184.4 252.6,185.0 292.5,185.1 294.4,184.3 303.9,184.2 306.5,184.2" fill="none" stroke="#4040cc" stroke-width="0.85" stroke-linejoin="miter"/>
<g clip-path="url(#cp)">
<circle cx="36.4" cy="186.1" r="2.0" fill="#000080" stroke="#0a0a3a" stroke-width="0.45"/>
<circle cx="45.6" cy="170.4" r="2.0" fill="#000080" stroke="#0a0a3a" stroke-width="0.45"/>
<circle cx="46.7" cy="177.1" r="2.0" fill="#000080" stroke="#0a0a3a" stroke-width="0.45"/>
<circle cx="50.4" cy="179.9" r="2.0" fill="#000080" stroke="#0a0a3a" stroke-width="0.45"/>
<circle cx="51.5" cy="172.8" r="2.0" fill="#000080" stroke="#0a0a3a" stroke-width="0.45"/>
<circle cx="56.3" cy="152.7" r="2.0" fill="#000080" stroke="#0a0a3a" stroke-width="0.45"/>
<circle cx="61.8" cy="178.0" r="2.15" fill="#98cbea" stroke="#333" stroke-width="0.45"/>
<circle cx="63.6" cy="173.0" r="2.0" fill="#000080" stroke="#0a0a3a" stroke-width="0.45"/>
<circle cx="71.2" cy="180.3" r="2.0" fill="#000080" stroke="#0a0a3a" stroke-width="0.45"/>
<circle cx="77.0" cy="186.0" r="2.0" fill="#000080" stroke="#0a0a3a" stroke-width="0.45"/>
<circle cx="80.4" cy="179.1" r="2.0" fill="#929292" stroke="#333" stroke-width="0.45"/>
<circle cx="81.4" cy="173.4" r="2.0" fill="#929292" stroke="#333" stroke-width="0.45"/>
<circle cx="82.9" cy="185.5" r="2.0" fill="#929292" stroke="#333" stroke-width="0.45"/>
<circle cx="90.3" cy="177.2" r="2.0" fill="#000080" stroke="#0a0a3a" stroke-width="0.45"/>
<circle cx="99.9" cy="183.4" r="2.0" fill="#929292" stroke="#333" stroke-width="0.45"/>
<circle cx="109.3" cy="176.3" r="2.0" fill="#000080" stroke="#0a0a3a" stroke-width="0.45"/>
<circle cx="124.1" cy="165.1" r="2.15" fill="#98cbea" stroke="#333" stroke-width="0.45"/>
<circle cx="138.9" cy="180.3" r="2.0" fill="#000080" stroke="#0a0a3a" stroke-width="0.45"/>
<circle cx="138.6" cy="149.3" r="2.15" fill="#98cbea" stroke="#333" stroke-width="0.45"/>
<circle cx="143.4" cy="178.1" r="2.0" fill="#000080" stroke="#0a0a3a" stroke-width="0.45"/>
<circle cx="147.9" cy="172.0" r="2.0" fill="#000080" stroke="#0a0a3a" stroke-width="0.45"/>
<circle cx="147.7" cy="162.5" r="2.15" fill="#98cbea" stroke="#333" stroke-width="0.45"/>
<circle cx="151.7" cy="184.4" r="2.0" fill="#000080" stroke="#0a0a3a" stroke-width="0.45"/>
<circle cx="155.1" cy="169.9" r="2.0" fill="#000080" stroke="#0a0a3a" stroke-width="0.45"/>
<circle cx="161.4" cy="173.0" r="2.0" fill="#000080" stroke="#0a0a3a" stroke-width="0.45"/>
<circle cx="163.9" cy="183.9" r="2.0" fill="#000080" stroke="#0a0a3a" stroke-width="0.45"/>
<circle cx="166.0" cy="164.6" r="2.0" fill="#000080" stroke="#0a0a3a" stroke-width="0.45"/>
<circle cx="168.3" cy="184.2" r="2.0" fill="#000080" stroke="#0a0a3a" stroke-width="0.45"/>
<circle cx="169.2" cy="170.4" r="2.0" fill="#000080" stroke="#0a0a3a" stroke-width="0.45"/>
<circle cx="172.0" cy="178.3" r="2.0" fill="#929292" stroke="#333" stroke-width="0.45"/>
<circle cx="176.8" cy="145.8" r="2.0" fill="#000080" stroke="#0a0a3a" stroke-width="0.45"/>
<circle cx="179.0" cy="186.1" r="2.0" fill="#000080" stroke="#0a0a3a" stroke-width="0.45"/>
<circle cx="181.9" cy="184.8" r="2.0" fill="#000080" stroke="#0a0a3a" stroke-width="0.45"/>
<circle cx="182.9" cy="166.8" r="2.0" fill="#000080" stroke="#0a0a3a" stroke-width="0.45"/>
<circle cx="184.0" cy="154.5" r="2.0" fill="#000080" stroke="#0a0a3a" stroke-width="0.45"/>
<circle cx="194.4" cy="184.5" r="2.0" fill="#000080" stroke="#0a0a3a" stroke-width="0.45"/>
<circle cx="198.5" cy="178.6" r="2.0" fill="#000080" stroke="#0a0a3a" stroke-width="0.45"/>
<circle cx="200.2" cy="157.1" r="2.0" fill="#000080" stroke="#0a0a3a" stroke-width="0.45"/>
<circle cx="206.5" cy="186.1" r="2.0" fill="#000080" stroke="#0a0a3a" stroke-width="0.45"/>
<circle cx="215.5" cy="171.3" r="2.0" fill="#000080" stroke="#0a0a3a" stroke-width="0.45"/>
<circle cx="224.8" cy="179.2" r="2.0" fill="#929292" stroke="#333" stroke-width="0.45"/>
<circle cx="234.2" cy="154.2" r="2.0" fill="#929292" stroke="#333" stroke-width="0.45"/>
<circle cx="243.4" cy="168.4" r="2.0" fill="#000080" stroke="#0a0a3a" stroke-width="0.45"/>
<circle cx="246.1" cy="183.9" r="2.0" fill="#929292" stroke="#333" stroke-width="0.45"/>
<circle cx="253.5" cy="177.7" r="2.0" fill="#000080" stroke="#0a0a3a" stroke-width="0.45"/>
<circle cx="259.7" cy="164.9" r="2.0" fill="#000080" stroke="#0a0a3a" stroke-width="0.45"/>
<circle cx="261.9" cy="174.3" r="2.0" fill="#000080" stroke="#0a0a3a" stroke-width="0.45"/>
<circle cx="271.8" cy="181.5" r="2.0" fill="#000080" stroke="#0a0a3a" stroke-width="0.45"/>
<circle cx="285.7" cy="174.1" r="2.0" fill="#000080" stroke="#0a0a3a" stroke-width="0.45"/>
<circle cx="290.7" cy="182.4" r="2.0" fill="#000080" stroke="#0a0a3a" stroke-width="0.45"/>
<circle cx="301.0" cy="178.5" r="2.0" fill="#000080" stroke="#0a0a3a" stroke-width="0.45"/>
<circle cx="303.7" cy="185.6" r="2.0" fill="#000080" stroke="#0a0a3a" stroke-width="0.45"/>
<circle cx="307.0" cy="165.8" r="2.0" fill="#000080" stroke="#0a0a3a" stroke-width="0.45"/>
<circle cx="307.7" cy="173.1" r="2.0" fill="#000080" stroke="#0a0a3a" stroke-width="0.45"/>
<circle cx="307.7" cy="183.0" r="2.0" fill="#000080" stroke="#0a0a3a" stroke-width="0.45"/>
<circle cx="314.8" cy="158.2" r="2.0" fill="#000080" stroke="#0a0a3a" stroke-width="0.45"/>
</g>
<rect x="-1.75" y="-1.75" width="3.5" height="3.5" rx="0.8" transform="translate(119.3,135.4) rotate(45)" fill="#7632b0" stroke="#2a1840" stroke-width="0.5"/>
<text x="119.6" y="131.8" text-anchor="middle" font-size="6.0" fill="#111" stroke="#111">rs2930000</text>
<rect x="36.5" y="201.3" width="279.25" height="11.199999999999989" fill="none" stroke="#b0b0b0" stroke-width="0.7"/>
<path d="M64 209.5H288.5" stroke="#2c2c88" stroke-width="0.9"/>
<circle cx="64" cy="209.5" r="1.1" fill="#00006e"/>
<circle cx="184.9" cy="209.5" r="1.1" fill="#00006e"/>
<circle cx="227.8" cy="209.5" r="1.1" fill="#00006e"/>
<circle cx="254" cy="209.5" r="1.1" fill="#00006e"/>
<rect x="264.8" y="208.3" width="23.7" height="2.4" fill="#08087a"/>
<text x="166.3" y="207.8" font-size="4.8" font-style="italic" font-weight="bold" fill="#333333" stroke="#333333" stroke-opacity="0">WISP1</text>
<path d="M182 205.6H186.4" stroke="#222" stroke-width="0.5" fill="none"/><path d="M184.9 204.6L187.1 205.6L184.9 206.6Z" fill="#222"/>
<path d="M45.6 212.5V216.5" stroke="#999" stroke-width="0.6"/>
<text x="45.6" y="225.4" text-anchor="middle" font-size="5.7" fill="#4c4c4c" stroke="#4c4c4c">134.2</text>
<path d="M101.0 212.5V216.5" stroke="#999" stroke-width="0.6"/>
<text x="101.0" y="225.4" text-anchor="middle" font-size="5.7" fill="#4c4c4c" stroke="#4c4c4c">134.21</text>
<path d="M156.3 212.5V216.5" stroke="#999" stroke-width="0.6"/>
<text x="156.3" y="225.4" text-anchor="middle" font-size="5.7" fill="#4c4c4c" stroke="#4c4c4c">134.22</text>
<path d="M211.7 212.5V216.5" stroke="#999" stroke-width="0.6"/>
<text x="211.7" y="225.4" text-anchor="middle" font-size="5.7" fill="#4c4c4c" stroke="#4c4c4c">134.23</text>
<path d="M267.0 212.5V216.5" stroke="#999" stroke-width="0.6"/>
<text x="267.0" y="225.4" text-anchor="middle" font-size="5.7" fill="#4c4c4c" stroke="#4c4c4c">134.24</text>
<text x="176" y="233.7" text-anchor="middle" font-size="5.8" fill="#4c4c4c" stroke="#4c4c4c">Position on chr8 (Mb)</text>
</g>
<g transform="translate(0.00,484.00)">
<text x="2.7" y="7.0" font-size="5.35" fill="#4c4c4c" stroke="#4c4c4c">Plotted SNPs</text>
<path d="M36.5 2.4V7.4M315.8 2.4V7.4M45.8 2.4V7.4M50.4 2.4V7.4M51.9 2.4V7.4M56.6 2.4V7.4M61.8 2.4V7.4M63.6 2.4V7.4M71.5 2.4V7.4M77.0 2.4V7.4M80.4 2.4V7.4M81.4 2.4V7.4M82.6 2.4V7.4M90.3 2.4V7.4M99.8 2.4V7.4M109.6 2.4V7.4M119.5 2.4V7.4M123.8 2.4V7.4M138.4 2.4V7.4M143.1 2.4V7.4M147.2 2.4V7.4M150.9 2.4V7.4M155.0 2.4V7.4M161.5 2.4V7.4M163.4 2.4V7.4M165.0 2.4V7.4M166.7 2.4V7.4M168.2 2.4V7.4M169.9 2.4V7.4M171.8 2.4V7.4M176.6 2.4V7.4M178.4 2.4V7.4M179.6 2.4V7.4M182.5 2.4V7.4M183.5 2.4V7.4M184.2 2.4V7.4M194.2 2.4V7.4M198.5 2.4V7.4M200.0 2.4V7.4M206.5 2.4V7.4M215.5 2.4V7.4M224.9 2.4V7.4M234.2 2.4V7.4M243.3 2.4V7.4M245.9 2.4V7.4M253.4 2.4V7.4M259.4 2.4V7.4M260.8 2.4V7.4M262.2 2.4V7.4M271.3 2.4V7.4M285.7 2.4V7.4M290.0 2.4V7.4M300.5 2.4V7.4M302.3 2.4V7.4M304.0 2.4V7.4M307.2 2.4V7.4" stroke="#444" stroke-width="0.6" fill="none"/>
<text x="2.3" y="20.7" font-size="11.8" fill="#111" stroke="#111">E</text>
<path d="M36.5 194.4V15.5H315.75" stroke="#b0b0b0" stroke-width="0.7" fill="none"/>
<path d="M36.5 194.4H315.75" stroke="#b0b0b0" stroke-width="0.7" fill="none"/>
<path d="M315.75 15.5V194.4" stroke="#c4c4c4" stroke-width="0.7" fill="none"/>
<path d="M315.75 23.6V186.6" stroke="#9c9cea" stroke-width="0.8" fill="none"/>
<path d="M32.3 186.6H36.5" stroke="#999" stroke-width="0.6"/>
<text x="27.5" y="188.65" text-anchor="middle" font-size="5.7" fill="#4c4c4c" stroke="#4c4c4c">0</text>
<path d="M32.3 159.4H36.5" stroke="#999" stroke-width="0.6"/>
<text x="27.5" y="161.45" text-anchor="middle" font-size="5.7" fill="#4c4c4c" stroke="#4c4c4c">1</text>
<path d="M32.3 132.2H36.5" stroke="#999" stroke-width="0.6"/>
<text x="27.5" y="134.25" text-anchor="middle" font-size="5.7" fill="#4c4c4c" stroke="#4c4c4c">2</text>
<path d="M32.3 105.0H36.5" stroke="#999" stroke-width="0.6"/>
<text x="27.5" y="107.05" text-anchor="middle" font-size="5.7" fill="#4c4c4c" stroke="#4c4c4c">3</text>
<path d="M32.3 77.8H36.5" stroke="#999" stroke-width="0.6"/>
<text x="27.5" y="79.85" text-anchor="middle" font-size="5.7" fill="#4c4c4c" stroke="#4c4c4c">4</text>
<path d="M32.3 50.6H36.5" stroke="#999" stroke-width="0.6"/>
<text x="27.5" y="52.65" text-anchor="middle" font-size="5.7" fill="#4c4c4c" stroke="#4c4c4c">5</text>
<path d="M32.3 23.4H36.5" stroke="#999" stroke-width="0.6"/>
<text x="27.5" y="25.45" text-anchor="middle" font-size="5.7" fill="#4c4c4c" stroke="#4c4c4c">6</text>
<text transform="translate(16.0,105) rotate(-90)" text-anchor="middle" font-size="5.6" fill="#4c4c4c" stroke="#4c4c4c">− log<tspan font-size="3.8" dy="1.2">10</tspan><tspan dy="-1.2">(p−value)</tspan></text>
<path d="M315.75 186.6H319.75" stroke="#5a5ae6" stroke-width="0.6"/>
<text x="322.95" y="188.85" font-size="6.0" fill="#4444e4" stroke="#4444e4" stroke-width="0.08">0</text>
<path d="M315.75 154.0H319.75" stroke="#5a5ae6" stroke-width="0.6"/>
<text x="322.95" y="156.25" font-size="6.0" fill="#4444e4" stroke="#4444e4" stroke-width="0.08">20</text>
<path d="M315.75 121.4H319.75" stroke="#5a5ae6" stroke-width="0.6"/>
<text x="322.95" y="123.65" font-size="6.0" fill="#4444e4" stroke="#4444e4" stroke-width="0.08">40</text>
<path d="M315.75 88.8H319.75" stroke="#5a5ae6" stroke-width="0.6"/>
<text x="322.95" y="91.05" font-size="6.0" fill="#4444e4" stroke="#4444e4" stroke-width="0.08">60</text>
<path d="M315.75 56.2H319.75" stroke="#5a5ae6" stroke-width="0.6"/>
<text x="322.95" y="58.45" font-size="6.0" fill="#4444e4" stroke="#4444e4" stroke-width="0.08">80</text>
<path d="M315.75 23.6H319.75" stroke="#5a5ae6" stroke-width="0.6"/>
<text x="322.95" y="25.85" font-size="6.0" fill="#4444e4" stroke="#4444e4" stroke-width="0.08">100</text>
<text transform="translate(335.0,104.6) rotate(90)" text-anchor="middle" font-size="5.87" fill="#4444e4" stroke="#4444e4" stroke-width="0.08">Recombination rate (cM/Mb)</text>
<rect x="39" y="18" width="23.5" height="56.4" fill="#fff" stroke="#999" stroke-width="0.6"/>
<rect x="42" y="28.0" width="5.8" height="8.65" fill="#FF0000"/>
<rect x="42" y="36.6" width="5.8" height="8.65" fill="#FFA500"/>
<rect x="42" y="45.2" width="5.8" height="8.65" fill="#00FF00"/>
<rect x="42" y="53.8" width="5.8" height="8.65" fill="#87CEFA"/>
<rect x="42" y="62.4" width="5.8" height="8.65" fill="#000080"/>
<path d="M42 36.6H50.4" stroke="#333" stroke-width="0.45"/>
<text x="51.8" y="38.8" font-size="5.5" fill="#4c4c4c" stroke="#4c4c4c">0.8</text>
<path d="M42 45.2H50.4" stroke="#333" stroke-width="0.45"/>
<text x="51.8" y="47.4" font-size="5.5" fill="#4c4c4c" stroke="#4c4c4c">0.6</text>
<path d="M42 53.8H50.4" stroke="#333" stroke-width="0.45"/>
<text x="51.8" y="56.0" font-size="5.5" fill="#4c4c4c" stroke="#4c4c4c">0.4</text>
<path d="M42 62.4H50.4" stroke="#333" stroke-width="0.45"/>
<text x="51.8" y="64.6" font-size="5.5" fill="#4c4c4c" stroke="#4c4c4c">0.2</text>
<text x="49" y="25.6" font-size="5.6" font-style="italic" fill="#4c4c4c" stroke="#4c4c4c">r<tspan font-size="3.6" dy="-2">2</tspan></text>
<polyline points="36.5,183.6 38.5,184.6 41.0,185.3 45.0,185.4 62.0,185.4 70.2,184.9 77.4,183.9 78.9,182.9 80.4,181.9 84.5,181.3 89.1,180.8 90.7,179.3 92.7,178.6 95.3,178.6 96.8,180.2 98.8,182.8 101.9,184.3 105.0,184.7 112.1,184.8 115.7,183.9 119.3,183.4 140.0,183.5 156.5,183.5 158.6,178.5 159.8,173.5 160.4,140.6 164.4,140.6 164.6,125.6 169.0,125.6 169.7,127.3 176.5,170.9 177.2,171.4 182.2,171.5 182.9,173.2 185.5,180.9 187.3,183.8 188.2,184.2 215.6,184.1 223.2,179.4 243.1,179.4 246.9,182.1 249.8,184.4 252.6,185.0 292.5,185.1 294.4,184.3 303.9,184.2 306.5,184.2" fill="none" stroke="#4040cc" stroke-width="0.85" stroke-linejoin="miter"/>
<g clip-path="url(#cp)">
<circle cx="36.1" cy="186.0" r="2.0" fill="#000080" stroke="#0a0a3a" stroke-width="0.45"/>
<circle cx="45.8" cy="183.5" r="2.0" fill="#000080" stroke="#0a0a3a" stroke-width="0.45"/>
<circle cx="46.6" cy="185.8" r="2.0" fill="#000080" stroke="#0a0a3a" stroke-width="0.45"/>
<circle cx="50.4" cy="170.9" r="2.0" fill="#000080" stroke="#0a0a3a" stroke-width="0.45"/>
<circle cx="51.6" cy="173.6" r="2.0" fill="#000080" stroke="#0a0a3a" stroke-width="0.45"/>
<circle cx="56.4" cy="183.8" r="2.0" fill="#000080" stroke="#0a0a3a" stroke-width="0.45"/>
<circle cx="62.1" cy="181.8" r="2.0" fill="#000080" stroke="#0a0a3a" stroke-width="0.45"/>
<circle cx="63.6" cy="161.6" r="2.0" fill="#000080" stroke="#0a0a3a" stroke-width="0.45"/>
<circle cx="71.2" cy="182.3" r="2.0" fill="#000080" stroke="#0a0a3a" stroke-width="0.45"/>
<circle cx="77.0" cy="175.0" r="2.0" fill="#000080" stroke="#0a0a3a" stroke-width="0.45"/>
<circle cx="80.4" cy="179.1" r="2.0" fill="#929292" stroke="#333" stroke-width="0.45"/>
<circle cx="81.8" cy="172.3" r="2.0" fill="#929292" stroke="#333" stroke-width="0.45"/>
<circle cx="82.8" cy="172.4" r="2.0" fill="#929292" stroke="#333" stroke-width="0.45"/>
<circle cx="90.3" cy="182.8" r="2.0" fill="#000080" stroke="#0a0a3a" stroke-width="0.45"/>
<circle cx="99.9" cy="169.6" r="2.0" fill="#929292" stroke="#333" stroke-width="0.45"/>
<circle cx="109.0" cy="185.1" r="2.0" fill="#000080" stroke="#0a0a3a" stroke-width="0.45"/>
<circle cx="119.6" cy="174.4" r="2.0" fill="#000080" stroke="#0a0a3a" stroke-width="0.45"/>
<circle cx="124.1" cy="168.5" r="2.0" fill="#000080" stroke="#0a0a3a" stroke-width="0.45"/>
<circle cx="138.7" cy="169.3" r="2.0" fill="#000080" stroke="#0a0a3a" stroke-width="0.45"/>
<circle cx="139.1" cy="176.9" r="2.0" fill="#000080" stroke="#0a0a3a" stroke-width="0.45"/>
<circle cx="143.4" cy="158.6" r="2.0" fill="#000080" stroke="#0a0a3a" stroke-width="0.45"/>
<circle cx="147.7" cy="153.6" r="2.0" fill="#000080" stroke="#0a0a3a" stroke-width="0.45"/>
<circle cx="151.8" cy="172.6" r="2.0" fill="#000080" stroke="#0a0a3a" stroke-width="0.45"/>
<circle cx="155.2" cy="163.3" r="2.0" fill="#000080" stroke="#0a0a3a" stroke-width="0.45"/>
<circle cx="161.6" cy="179.1" r="2.0" fill="#000080" stroke="#0a0a3a" stroke-width="0.45"/>
<circle cx="164.1" cy="182.8" r="2.0" fill="#000080" stroke="#0a0a3a" stroke-width="0.45"/>
<circle cx="166.4" cy="183.1" r="2.0" fill="#000080" stroke="#0a0a3a" stroke-width="0.45"/>
<circle cx="168.5" cy="181.5" r="2.0" fill="#000080" stroke="#0a0a3a" stroke-width="0.45"/>
<circle cx="169.3" cy="169.6" r="2.0" fill="#000080" stroke="#0a0a3a" stroke-width="0.45"/>
<circle cx="171.8" cy="162.6" r="2.0" fill="#929292" stroke="#333" stroke-width="0.45"/>
<circle cx="176.9" cy="160.9" r="2.0" fill="#000080" stroke="#0a0a3a" stroke-width="0.45"/>
<circle cx="179.0" cy="184.7" r="2.0" fill="#000080" stroke="#0a0a3a" stroke-width="0.45"/>
<circle cx="182.0" cy="180.2" r="2.0" fill="#000080" stroke="#0a0a3a" stroke-width="0.45"/>
<circle cx="182.8" cy="164.5" r="2.0" fill="#000080" stroke="#0a0a3a" stroke-width="0.45"/>
<circle cx="184.2" cy="165.0" r="2.0" fill="#000080" stroke="#0a0a3a" stroke-width="0.45"/>
<circle cx="194.6" cy="185.0" r="2.0" fill="#000080" stroke="#0a0a3a" stroke-width="0.45"/>
<circle cx="198.5" cy="181.2" r="2.0" fill="#000080" stroke="#0a0a3a" stroke-width="0.45"/>
<circle cx="200.3" cy="186.2" r="2.0" fill="#000080" stroke="#0a0a3a" stroke-width="0.45"/>
<circle cx="206.7" cy="186.1" r="2.0" fill="#000080" stroke="#0a0a3a" stroke-width="0.45"/>
<circle cx="215.6" cy="166.9" r="2.0" fill="#000080" stroke="#0a0a3a" stroke-width="0.45"/>
<circle cx="225.0" cy="185.2" r="2.0" fill="#929292" stroke="#333" stroke-width="0.45"/>
<circle cx="234.2" cy="186.0" r="2.0" fill="#929292" stroke="#333" stroke-width="0.45"/>
<circle cx="243.5" cy="176.8" r="2.0" fill="#000080" stroke="#0a0a3a" stroke-width="0.45"/>
<circle cx="246.1" cy="182.3" r="2.0" fill="#929292" stroke="#333" stroke-width="0.45"/>
<circle cx="253.6" cy="181.4" r="2.0" fill="#000080" stroke="#0a0a3a" stroke-width="0.45"/>
<circle cx="259.8" cy="184.9" r="2.0" fill="#000080" stroke="#0a0a3a" stroke-width="0.45"/>
<circle cx="261.9" cy="176.9" r="2.0" fill="#000080" stroke="#0a0a3a" stroke-width="0.45"/>
<circle cx="271.7" cy="185.4" r="2.0" fill="#000080" stroke="#0a0a3a" stroke-width="0.45"/>
<circle cx="285.7" cy="172.5" r="2.0" fill="#000080" stroke="#0a0a3a" stroke-width="0.45"/>
<circle cx="290.7" cy="160.5" r="2.0" fill="#000080" stroke="#0a0a3a" stroke-width="0.45"/>
<circle cx="301.1" cy="178.9" r="2.0" fill="#000080" stroke="#0a0a3a" stroke-width="0.45"/>
<circle cx="301.1" cy="185.5" r="2.0" fill="#000080" stroke="#0a0a3a" stroke-width="0.45"/>
<circle cx="303.9" cy="183.4" r="2.0" fill="#000080" stroke="#0a0a3a" stroke-width="0.45"/>
<circle cx="307.0" cy="157.5" r="2.0" fill="#000080" stroke="#0a0a3a" stroke-width="0.45"/>
<circle cx="307.6" cy="164.5" r="2.0" fill="#000080" stroke="#0a0a3a" stroke-width="0.45"/>
<circle cx="307.6" cy="168.5" r="2.0" fill="#000080" stroke="#0a0a3a" stroke-width="0.45"/>
<circle cx="314.9" cy="186.0" r="2.0" fill="#000080" stroke="#0a0a3a" stroke-width="0.45"/>
</g>
<rect x="-1.75" y="-1.75" width="3.5" height="3.5" rx="0.8" transform="translate(147.7,153.4) rotate(45)" fill="#7632b0" stroke="#2a1840" stroke-width="0.5"/>
<text x="148" y="149.1" text-anchor="middle" font-size="6.0" fill="#111" stroke="#111">rs116873248</text>
<rect x="36.5" y="201.3" width="279.25" height="11.199999999999989" fill="none" stroke="#b0b0b0" stroke-width="0.7"/>
<path d="M64 209.5H288.5" stroke="#2c2c88" stroke-width="0.9"/>
<circle cx="64" cy="209.5" r="1.1" fill="#00006e"/>
<circle cx="184.9" cy="209.5" r="1.1" fill="#00006e"/>
<circle cx="227.8" cy="209.5" r="1.1" fill="#00006e"/>
<circle cx="254" cy="209.5" r="1.1" fill="#00006e"/>
<rect x="264.8" y="208.3" width="23.7" height="2.4" fill="#08087a"/>
<text x="166.3" y="207.8" font-size="4.8" font-style="italic" font-weight="bold" fill="#333333" stroke="#333333" stroke-opacity="0">WISP1</text>
<path d="M182 205.6H186.4" stroke="#222" stroke-width="0.5" fill="none"/><path d="M184.9 204.6L187.1 205.6L184.9 206.6Z" fill="#222"/>
<path d="M45.6 212.5V216.5" stroke="#999" stroke-width="0.6"/>
<text x="45.6" y="225.4" text-anchor="middle" font-size="5.7" fill="#4c4c4c" stroke="#4c4c4c">134.2</text>
<path d="M101.0 212.5V216.5" stroke="#999" stroke-width="0.6"/>
<text x="101.0" y="225.4" text-anchor="middle" font-size="5.7" fill="#4c4c4c" stroke="#4c4c4c">134.21</text>
<path d="M156.3 212.5V216.5" stroke="#999" stroke-width="0.6"/>
<text x="156.3" y="225.4" text-anchor="middle" font-size="5.7" fill="#4c4c4c" stroke="#4c4c4c">134.22</text>
<path d="M211.7 212.5V216.5" stroke="#999" stroke-width="0.6"/>
<text x="211.7" y="225.4" text-anchor="middle" font-size="5.7" fill="#4c4c4c" stroke="#4c4c4c">134.23</text>
<path d="M267.0 212.5V216.5" stroke="#999" stroke-width="0.6"/>
<text x="267.0" y="225.4" text-anchor="middle" font-size="5.7" fill="#4c4c4c" stroke="#4c4c4c">134.24</text>
<text x="176" y="233.7" text-anchor="middle" font-size="5.8" fill="#4c4c4c" stroke="#4c4c4c">Position on chr8 (Mb)</text>
</g>
</svg>
</body></html>
